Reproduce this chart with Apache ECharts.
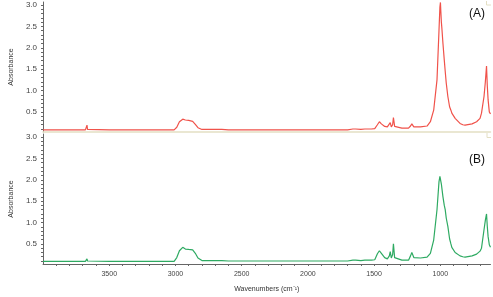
<!DOCTYPE html>
<html>
<head>
<meta charset="utf-8">
<script src="https://cdn.jsdelivr.net/npm/echarts@6/dist/echarts.min.js"></script>
<style>html,body{margin:0;padding:0;background:#fff}#c{width:493px;height:297px}</style>
</head>
<body>
<div id="c"></div>
<script>
const wavenumbers = [4000,3900,3800,3750,3680,3672,3668,3664,3660,3500,3200,3010,2990,2970,2945,2925,2900,2870,2850,2830,2800,2700,2650,2600,2000,1700,1660,1650,1640,1600,1570,1560,1540,1520,1495,1475,1460,1445,1420,1400,1385,1378,1370,1360,1354,1345,1335,1290,1240,1225,1215,1200,1186,1150,1100,1075,1050,1025,1010,1003,999,996,992,988,980,970,963,955,943,930,920,913,888,851,830,813,801,760,726,700,689,670,660,651,645,639,630,621];
const absorbanceA = [0.08,0.08,0.08,0.08,0.08,0.09,0.19,0.09,0.08,0.08,0.08,0.08,0.14,0.27,0.33,0.31,0.30,0.28,0.21,0.13,0.09,0.09,0.09,0.08,0.08,0.08,0.10,0.09,0.10,0.09,0.10,0.09,0.10,0.10,0.11,0.20,0.27,0.22,0.16,0.15,0.18,0.25,0.15,0.20,0.37,0.16,0.12,0.12,0.12,0.17,0.22,0.15,0.14,0.15,0.17,0.27,0.54,1.25,2.40,2.95,3.06,2.85,2.60,2.45,2.10,1.71,1.45,1.17,0.86,0.62,0.54,0.47,0.35,0.23,0.20,0.19,0.19,0.22,0.27,0.35,0.47,0.86,1.20,1.57,1.10,0.78,0.50,0.45];
const absorbanceB = [0.09,0.09,0.09,0.09,0.09,0.10,0.15,0.10,0.09,0.09,0.09,0.09,0.18,0.34,0.42,0.38,0.37,0.36,0.28,0.17,0.11,0.11,0.11,0.10,0.10,0.10,0.12,0.11,0.12,0.11,0.12,0.11,0.12,0.12,0.13,0.27,0.34,0.28,0.18,0.15,0.22,0.32,0.17,0.25,0.50,0.18,0.14,0.12,0.12,0.22,0.30,0.18,0.16,0.17,0.19,0.28,0.59,1.30,1.95,2.08,2.12,2.05,1.90,1.80,1.60,1.40,1.30,1.10,0.91,0.62,0.50,0.42,0.30,0.22,0.20,0.19,0.19,0.22,0.26,0.33,0.40,0.83,1.05,1.20,0.90,0.67,0.48,0.42];
const xTickLabels = [3500,3000,2500,2000,1500,1000];
const yTickLabels = [0.5,1.0,1.5,2.0,2.5,3.0];
const xMinorTicks = [700,800,900,1000,1100,1200,1300,1400,1500,1600,1700,1800,1900,2000,2100,2200,2300,2400,2500,2600,2700,2800,2900,3000,3100,3200,3300,3400,3500,3600,3700,3800,3900];
const yMinorTicks = [0.1,0.2,0.3,0.4,0.5,0.6,0.7,0.8,0.9,1.0,1.1,1.2,1.3,1.4,1.5,1.6,1.7,1.8,1.9,2.0,2.1,2.2,2.3,2.4,2.5,2.6,2.7,2.8,2.9,3.0];
const seriesNames = ['(A)','(B)'];

const chart = echarts.init(document.getElementById('c'), null, {renderer:'canvas'});
const FONT = 'Liberation Sans, Arial, sans-serif';
const axisGray = '#666';
const beige = '#e4dfc4';
function pairs(xs, ys){ return xs.map((x,i)=>[x, ys[i]]); }
function yAxis(idx){
  return {
    gridIndex: idx, type:'value', min:0.03, max:3.07,
    name:'Absorbance', nameLocation:'middle', nameGap:24,
    nameTextStyle:{fontFamily:FONT, fontSize:7, color:'#333'},
    axisLine:{show:true, lineStyle:{color:axisGray, width:1}},
    axisTick:{show:true, length:2, lineStyle:{color:axisGray}, customValues:yMinorTicks},
    axisLabel:{fontFamily:FONT, fontSize:8, color:'#444', margin:6, customValues:yTickLabels, formatter:v=>v.toFixed(1)},
    splitLine:{show:false}
  };
}
chart.setOption({
  animation:false,
  grid:[
    {left:38, width:452.5, top:2, height:130},
    {left:38, width:452.5, top:134, height:130}
  ],
  xAxis:[
    {gridIndex:0, type:'value', inverse:true, min:621, max:4000,
     axisLine:{show:true, onZero:false, lineStyle:{color:beige, width:1.5}},
     axisTick:{show:false}, axisLabel:{show:false}, splitLine:{show:false}},
    {gridIndex:1, type:'value', inverse:true, min:621, max:4000,
     name:'Wavenumbers (cm\u207B\u00B9)', nameLocation:'middle', nameGap:22,
     nameTextStyle:{fontFamily:FONT, fontSize:7, color:'#333'},
     axisLine:{show:true, onZero:false, lineStyle:{color:axisGray, width:1}},
     axisTick:{show:true, length:2, lineStyle:{color:axisGray}, customValues:xMinorTicks},
     axisLabel:{fontFamily:FONT, fontSize:7, color:'#444', margin:7, customValues:xTickLabels, formatter:v=>String(v)},
     splitLine:{show:false}}
  ],
  yAxis:[yAxis(0), yAxis(1)],
  graphic:[
    {type:'text', left:469, top:8, style:{text:seriesNames[0], font:'12px '+FONT, fill:'#111'}},
    {type:'text', left:469, top:154, style:{text:seriesNames[1], font:'12px '+FONT, fill:'#111'}},
    {type:'polyline', shape:{points:[[486.5,1],[486.5,5],[491,5]]}, style:{stroke:beige, fill:null, lineWidth:1}},
    {type:'polyline', shape:{points:[[487,133],[487,137.5],[491,137.5]]}, style:{stroke:beige, fill:null, lineWidth:1}}
  ],
  series:[
    {name:seriesNames[0], type:'line', xAxisIndex:0, yAxisIndex:0, showSymbol:false, symbol:'none',
     data:pairs(wavenumbers, absorbanceA), lineStyle:{color:'#f0524a', width:1.2}},
    {name:seriesNames[1], type:'line', xAxisIndex:1, yAxisIndex:1, showSymbol:false, symbol:'none',
     data:pairs(wavenumbers, absorbanceB), lineStyle:{color:'#2eaa62', width:1.2}}
  ]
});
</script>
</body>
</html>
